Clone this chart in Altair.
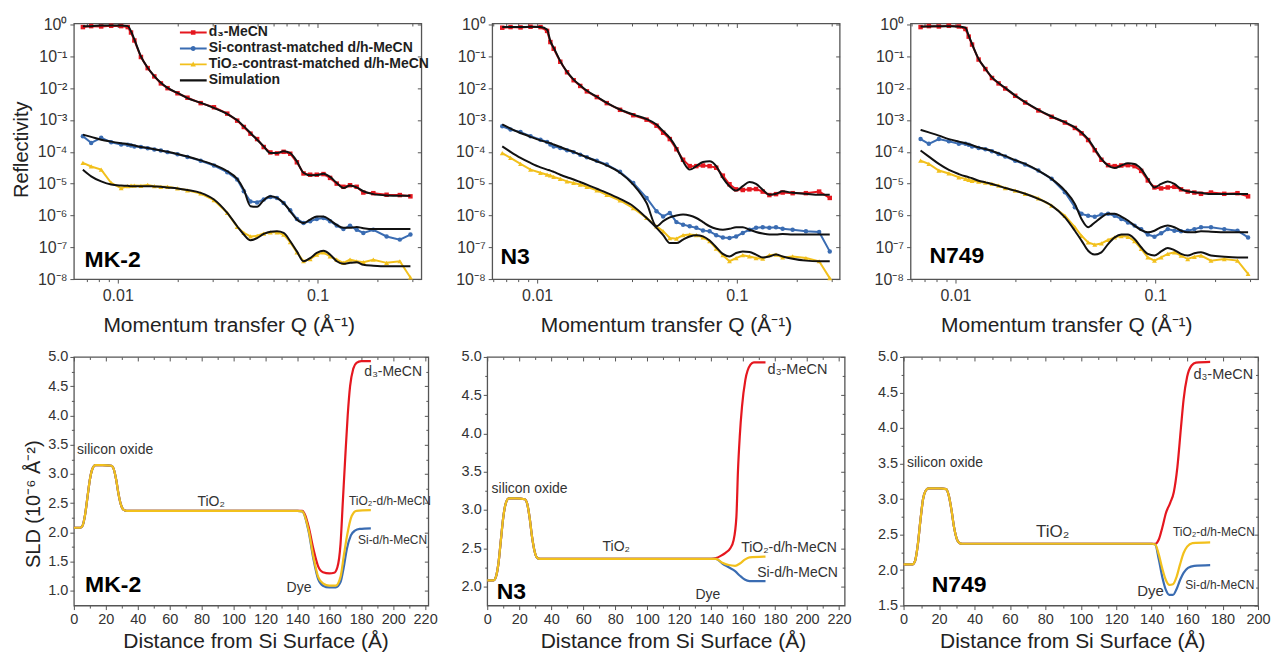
import altair as alt
import pandas as pd

FONT = "Liberation Sans"
RED = "#e5171f"
BLUE = "#3a6cb2"
YEL = "#f2c01c"
BLK = "#111111"
TXT = "#1e1e1e"
ANN = "#333333"

SERIES = ["d₃-MeCN", "Si-contrast-matched d/h-MeCN", "TiO₂-contrast-matched d/h-MeCN"]
SIM_NAME = "Simulation"

# ---------------- Reflectivity panels ----------------
# momentum transfer Q (1/Angstrom) at which values were read
Q = [0.00669, 0.00736, 0.00826, 0.00927, 0.0104, 0.01122, 0.01165, 0.01211, 0.01306, 0.01412,
     0.01524, 0.01644, 0.01775, 0.01991, 0.02233, 0.02601, 0.03031, 0.03533, 0.03962, 0.04277,
     0.04617, 0.04984, 0.0538, 0.05808, 0.06269, 0.06767, 0.07305, 0.07885, 0.08511, 0.09187,
     0.09917, 0.1071, 0.1156, 0.1248, 0.1348, 0.1455, 0.1571, 0.1696, 0.1903, 0.2218,
     0.2583, 0.2919]

# log10(reflectivity)
MK2_D3_SIM = [-0.05, -0.05, -0.03, -0.03, -0.03, -0.05, -0.21, -0.47, -1.00, -1.36, -1.62, -1.83, -1.99, -2.15,
              -2.31, -2.46, -2.62, -2.81, -3.01, -3.20, -3.41, -3.62, -3.83, -4.04, -4.04, -3.98, -4.04, -4.30,
              -4.66, -4.74, -4.73, -4.69, -4.79, -4.98, -5.14, -5.06, -5.12, -5.24, -5.33, -5.37, -5.38, -5.38]
MK2_D3_DAT = [-0.08, -0.05, -0.06, -0.04, -0.05, -0.08, -0.25, -0.50, -1.02, -1.37, -1.63, -1.85, -2.00, -2.16,
              -2.30, -2.47, -2.60, -2.80, -3.02, -3.22, -3.43, -3.60, -3.85, -4.02, -4.05, -4.00, -4.06, -4.33,
              -4.68, -4.72, -4.72, -4.70, -4.82, -5.00, -5.10, -5.05, -5.10, -5.28, -5.30, -5.35, -5.36, -5.40]
MK2_SI_SIM = [-3.46, -3.53, -3.62, -3.68, -3.73, -3.76, -3.78, -3.80, -3.85, -3.88, -3.92, -3.96, -4.00, -4.07,
              -4.15, -4.27, -4.41, -4.61, -4.85, -5.19, -5.71, -5.73, -5.52, -5.40, -5.45, -5.61, -5.87, -6.13,
              -6.24, -6.13, -6.03, -6.03, -6.15, -6.30, -6.39, -6.39, -6.36, -6.40, -6.43, -6.43, -6.43, -6.43]
MK2_SI_DAT = [-3.51, -3.72, -3.56, -3.70, -3.77, -3.78, -3.80, -3.83, -3.85, -3.89, -3.93, -3.96, -4.01, -4.08,
              -4.16, -4.28, -4.43, -4.64, -4.87, -5.24, -5.56, -5.59, -5.50, -5.42, -5.45, -5.61, -5.84, -6.11,
              -6.24, -6.18, -6.11, -6.08, -6.18, -6.32, -6.43, -6.32, -6.45, -6.55, -6.45, -6.66, -6.76, -6.60]
MK2_TI_SIM = [-4.56, -4.77, -4.93, -5.03, -5.06, -5.07, -5.08, -5.08, -5.08, -5.08, -5.09, -5.10, -5.12, -5.15,
              -5.20, -5.29, -5.50, -5.92, -6.34, -6.60, -6.78, -6.71, -6.58, -6.51, -6.50, -6.55, -6.81, -7.13,
              -7.44, -7.34, -7.18, -7.11, -7.23, -7.44, -7.52, -7.49, -7.47, -7.55, -7.58, -7.60, -7.60, -7.60]
MK2_TI_DAT = [-4.35, -4.46, -4.56, -4.98, -5.14, -5.08, -5.06, -5.06, -5.07, -5.04, -5.08, -5.10, -5.10, -5.15,
              -5.21, -5.31, -5.52, -5.92, -6.36, -6.55, -6.66, -6.64, -6.57, -6.53, -6.53, -6.60, -6.84, -7.16,
              -7.44, -7.37, -7.23, -7.16, -7.29, -7.39, -7.49, -7.39, -7.44, -7.47, -7.39, -7.49, -7.44, -7.95]

N3_D3_SIM = [-0.08, -0.08, -0.08, -0.07, -0.08, -0.16, -0.52, -0.73, -1.15, -1.49, -1.73, -1.91, -2.08, -2.27,
             -2.46, -2.67, -2.83, -2.97, -3.14, -3.35, -3.56, -3.88, -4.30, -4.56, -4.45, -4.32, -4.30, -4.45,
             -4.82, -5.08, -5.22, -5.08, -4.95, -5.01, -5.19, -5.35, -5.32, -5.24, -5.29, -5.32, -5.35, -5.35]
N3_D3_DAT = [-0.10, -0.08, -0.09, -0.07, -0.08, -0.20, -0.55, -0.76, -1.17, -1.50, -1.75, -1.93, -2.10, -2.28,
             -2.47, -2.68, -2.85, -2.99, -3.18, -3.40, -3.60, -3.92, -4.25, -4.45, -4.45, -4.43, -4.45, -4.50,
             -4.75, -5.02, -5.18, -5.20, -5.18, -5.17, -5.25, -5.36, -5.33, -5.28, -5.30, -5.30, -5.25, -5.45]
N3_SI_SIM = [-3.14, -3.27, -3.41, -3.53, -3.64, -3.70, -3.73, -3.77, -3.85, -3.93, -4.00, -4.09, -4.17, -4.30,
             -4.43, -4.66, -5.03, -5.61, -6.34, -6.18, -6.06, -6.00, -5.97, -6.00, -6.08, -6.21, -6.34, -6.42,
             -6.45, -6.42, -6.37, -6.37, -6.45, -6.52, -6.57, -6.60, -6.60, -6.58, -6.60, -6.60, -6.60, -6.60]
N3_SI_DAT = [-3.20, -3.30, -3.38, -3.51, -3.62, -3.69, -3.77, -3.83, -3.88, -3.95, -4.01, -4.09, -4.17, -4.28,
             -4.40, -4.63, -4.98, -5.45, -5.87, -6.03, -5.92, -6.21, -6.29, -6.34, -6.39, -6.47, -6.50, -6.62,
             -6.69, -6.71, -6.66, -6.55, -6.45, -6.39, -6.37, -6.39, -6.37, -6.42, -6.45, -6.50, -6.52, -7.13]
N3_TI_SIM = [-3.83, -4.00, -4.19, -4.35, -4.49, -4.56, -4.59, -4.63, -4.72, -4.80, -4.87, -4.95, -5.03, -5.16,
             -5.29, -5.48, -5.71, -6.08, -6.39, -6.62, -6.87, -6.87, -6.76, -6.66, -6.62, -6.66, -6.79, -7.00,
             -7.21, -7.29, -7.18, -7.13, -7.15, -7.23, -7.32, -7.29, -7.23, -7.29, -7.36, -7.42, -7.44, -7.44]
N3_TI_DAT = [-4.04, -4.19, -4.38, -4.56, -4.66, -4.72, -4.74, -4.79, -4.85, -4.93, -4.98, -5.03, -5.10, -5.21,
             -5.35, -5.53, -5.77, -6.08, -6.34, -6.50, -6.71, -6.73, -6.62, -6.60, -6.62, -6.69, -6.81, -7.04,
             -7.25, -7.44, -7.34, -7.25, -7.29, -7.34, -7.36, -7.25, -7.23, -7.32, -7.29, -7.34, -7.44, -7.97]

N749_D3_SIM = [-0.06, -0.06, -0.05, -0.05, -0.06, -0.10, -0.35, -0.61, -1.08, -1.39, -1.66, -1.84, -1.99, -2.23,
               -2.44, -2.68, -2.89, -3.07, -3.23, -3.39, -3.60, -3.91, -4.22, -4.43, -4.51, -4.43, -4.36, -4.38,
               -4.54, -4.85, -5.12, -5.01, -4.93, -5.01, -5.17, -5.24, -5.27, -5.29, -5.33, -5.33, -5.33, -5.33]
N749_D3_DAT = [-0.08, -0.05, -0.06, -0.04, -0.06, -0.14, -0.38, -0.63, -1.10, -1.40, -1.68, -1.85, -2.01, -2.24,
               -2.45, -2.70, -2.90, -3.08, -3.25, -3.42, -3.63, -3.95, -4.25, -4.42, -4.45, -4.43, -4.42, -4.45,
               -4.60, -4.90, -5.12, -5.15, -5.12, -5.10, -5.18, -5.25, -5.28, -5.32, -5.28, -5.32, -5.30, -5.40]
N749_SI_SIM = [-3.31, -3.39, -3.49, -3.60, -3.68, -3.73, -3.76, -3.79, -3.86, -3.91, -3.97, -4.05, -4.13, -4.26,
               -4.38, -4.59, -4.85, -5.22, -5.64, -6.11, -6.37, -6.22, -6.06, -5.95, -5.95, -6.04, -6.16, -6.32,
               -6.46, -6.53, -6.48, -6.37, -6.32, -6.37, -6.48, -6.53, -6.53, -6.50, -6.51, -6.53, -6.53, -6.53]
N749_SI_DAT = [-3.60, -3.75, -3.60, -3.67, -3.75, -3.75, -3.78, -3.83, -3.88, -3.92, -3.98, -4.07, -4.15, -4.28,
               -4.40, -4.59, -4.85, -5.27, -5.74, -5.95, -6.01, -6.04, -5.97, -5.95, -6.01, -6.11, -6.22, -6.32,
               -6.43, -6.60, -6.67, -6.56, -6.43, -6.48, -6.50, -6.48, -6.43, -6.37, -6.37, -6.43, -6.48, -6.69]
N749_TI_SIM = [-3.96, -4.15, -4.38, -4.57, -4.70, -4.77, -4.80, -4.83, -4.91, -4.96, -5.01, -5.07, -5.14, -5.22,
               -5.32, -5.48, -5.69, -6.06, -6.48, -6.79, -7.11, -7.23, -7.16, -6.90, -6.69, -6.60, -6.60, -6.74,
               -7.00, -7.21, -7.26, -7.13, -7.02, -7.09, -7.21, -7.26, -7.19, -7.16, -7.26, -7.30, -7.32, -7.32]
N749_TI_DAT = [-4.28, -4.38, -4.59, -4.68, -4.80, -4.85, -4.88, -4.91, -4.94, -4.97, -5.01, -5.06, -5.14, -5.22,
               -5.32, -5.46, -5.69, -6.01, -6.37, -6.64, -6.85, -6.92, -6.88, -6.77, -6.69, -6.65, -6.67, -6.81,
               -7.05, -7.32, -7.42, -7.32, -7.21, -7.16, -7.26, -7.37, -7.30, -7.26, -7.42, -7.37, -7.42, -7.84]

REFL_YTICKS = [1, 1e-1, 1e-2, 1e-3, 1e-4, 1e-5, 1e-6, 1e-7, 1e-8]
REFL_XTICKS = [0.01, 0.1]
REFL_XMINOR = [0.006, 0.007, 0.008, 0.009, 0.02, 0.03, 0.04, 0.05, 0.06, 0.07, 0.08, 0.09, 0.2, 0.3]

# ---------------- SLD panels ----------------
MK2_X_SHARED = [0, 4, 5.5, 7, 8.5, 10, 11.5, 13.5, 18, 23.5, 25, 26.5, 28, 29.5, 31, 33, 60, 100, 140]
MK2_Y_SHARED = [2.08, 2.08, 2.12, 2.3, 2.6, 2.9, 3.08, 3.15, 3.15, 3.14, 3.08, 2.9, 2.65, 2.47, 2.39, 2.37, 2.37, 2.37, 2.37]
MK2_D3_X = [143, 147, 150, 153, 156, 160, 163, 165, 167, 168.5, 170, 171.5, 173, 175, 177, 180, 186]
MK2_D3_Y = [2.37, 2.1, 1.72, 1.42, 1.32, 1.30, 1.31, 1.4, 1.8, 2.55, 3.3, 4.0, 4.5, 4.8, 4.9, 4.93, 4.93]
MK2_SI_X = [143, 147, 150, 153, 156, 160, 164, 167, 169, 171, 173.5, 176, 179, 186]
MK2_SI_Y = [2.36, 2.02, 1.55, 1.2, 1.09, 1.06, 1.06, 1.15, 1.4, 1.72, 1.95, 2.03, 2.06, 2.07]
MK2_TI_X = [143, 147, 150, 153, 156, 160, 164, 167, 169, 171, 174, 177, 186]
MK2_TI_Y = [2.36, 2.04, 1.59, 1.24, 1.13, 1.09, 1.09, 1.24, 1.59, 1.93, 2.28, 2.37, 2.38]

N3_X_SHARED = [0, 4, 5.5, 7, 8.5, 10, 11.5, 13.5, 18, 23.5, 25, 26.5, 28, 29.5, 31, 33, 60, 100, 140]
N3_Y_SHARED = [2.08, 2.08, 2.13, 2.3, 2.6, 2.9, 3.08, 3.15, 3.15, 3.14, 3.08, 2.9, 2.65, 2.47, 2.38, 2.36, 2.36, 2.36, 2.36]
N3_D3_X = [143, 146, 149, 152, 154, 155.8, 156.8, 157.9, 159.3, 161.4, 164.6, 166.7, 174]
N3_D3_Y = [2.37, 2.4, 2.44, 2.5, 2.6, 2.91, 3.52, 3.96, 4.35, 4.7, 4.9, 4.93, 4.93]
N3_SI_X = [143, 147, 151, 155, 158, 161, 164, 174]
N3_SI_Y = [2.36, 2.3, 2.25, 2.2, 2.14, 2.09, 2.07, 2.07]
N3_TI_X = [143, 147, 151, 155, 158, 161, 164, 174]
N3_TI_Y = [2.36, 2.31, 2.28, 2.27, 2.3, 2.35, 2.38, 2.39]

N749_X_SHARED = [0, 5, 6.5, 8, 9.5, 11, 12.5, 14, 20, 24, 25.5, 27, 28.5, 30, 31.5, 33, 60, 100, 140]
N749_Y_SHARED = [2.08, 2.08, 2.13, 2.35, 2.7, 3.0, 3.12, 3.15, 3.15, 3.14, 3.05, 2.85, 2.6, 2.44, 2.38, 2.37, 2.37, 2.37, 2.37]
N749_D3_X = [142, 144, 146, 148, 150.5, 152.5, 154.5, 156.5, 158, 160, 162.5, 165, 173]
N749_D3_Y = [2.37, 2.43, 2.6, 2.8, 2.95, 3.1, 3.45, 4.0, 4.4, 4.72, 4.88, 4.92, 4.93]
N749_SI_X = [142, 144, 146, 148, 150, 152, 154, 156, 158, 160.5, 164, 173]
N749_SI_Y = [2.36, 2.15, 1.9, 1.72, 1.65, 1.65, 1.73, 1.86, 1.96, 2.03, 2.06, 2.07]
N749_TI_X = [142, 144, 146, 148, 150, 152, 154, 156, 158, 160, 163, 173]
N749_TI_Y = [2.36, 2.22, 2.02, 1.86, 1.79, 1.8, 1.9, 2.08, 2.24, 2.33, 2.38, 2.39]

# legend glyphs: a line with the marker in the middle
P_LINE = "M-1,-0.07H1V0.07H-1Z"
P_SQ = P_LINE + "M-0.17,-0.17H0.17V0.17H-0.17Z"
P_CI = P_LINE + "M-0.19,0A0.19,0.19,0,1,1,0.19,0A0.19,0.19,0,1,1,-0.19,0Z"
P_TR = P_LINE + "M0,-0.21L0.2,0.15L-0.2,0.15Z"
P_SIM = "M-1,-0.085H1V0.085H-1Z"
SYMBOL_EXPR = (f"datum.value === '{SIM_NAME}' ? '{P_SIM}' : datum.value === '{SERIES[0]}' ? '{P_SQ}' : "
               f"datum.value === '{SERIES[1]}' ? '{P_CI}' : '{P_TR}'")

TOP_W, TOP_H = 348, 256
BOT_H = 249


def empty():
    return alt.Data(values=[])


def axis_layers(xs, ys, W, H, xmaj, xmin, ymaj, ymin, xkw, ykw):
    def lay(xax, yax):
        return alt.Chart(empty()).mark_point(opacity=0).encode(
            x=alt.X("ax:Q", scale=xs, axis=xax),
            y=alt.Y("ay:Q", scale=ys, axis=yax),
        )
    main = lay(alt.Axis(orient="bottom", values=xmaj, tickSize=4, **xkw),
               alt.Axis(orient="left", values=ymaj, tickSize=4, **ykw))
    minor = lay(alt.Axis(orient="bottom", values=xmin, labels=False, tickSize=2.5, title=None),
                alt.Axis(orient="left", values=ymin, labels=False, tickSize=2.5, title=None))
    mirror = lay(alt.Axis(orient="bottom", offset=-H, values=xmaj, labels=False, tickSize=4, title=None),
                 alt.Axis(orient="left", offset=-W, values=ymaj, labels=False, tickSize=4, title=None))
    mirror_minor = lay(alt.Axis(orient="bottom", offset=-H, values=xmin, labels=False, tickSize=2.5, title=None),
                       alt.Axis(orient="left", offset=-W, values=ymin, labels=False, tickSize=2.5, title=None))
    return [main, minor, mirror, mirror_minor]


def text_layer(xs, ys, x, y, text, size, align="center", weight="normal", color=ANN):
    df = pd.DataFrame({"x": [x], "y": [y], "t": [text]})
    return alt.Chart(df).mark_text(font=FONT, fontSize=size, fontWeight=weight, align=align,
                                   baseline="middle", color=color).encode(
        x=alt.X("x:Q", scale=xs, axis=None), y=alt.Y("y:Q", scale=ys, axis=None), text="t:N")


def refl_panel(qdom, series, label, label_q, label_r, leg_x, leg_y, row_h, title_x, ytitle):
    xs = alt.Scale(type="log", domain=qdom, nice=False)
    ys = alt.Scale(type="log", domain=[1e-8, 1.08], nice=False)
    layers = []
    styles = [(RED, "square", 20), (BLUE, "circle", 20), (YEL, "triangle-up", 24)]
    for (dat, sim), (col, shp, sz) in zip(series, styles):
        df = pd.DataFrame({"q": Q, "r": [10 ** v for v in dat]})
        enc = dict(x=alt.X("q:Q", scale=xs, axis=None), y=alt.Y("r:Q", scale=ys, axis=None))
        layers.append(alt.Chart(df).mark_line(color=col, strokeWidth=2.0).encode(**enc))
        layers.append(alt.Chart(df).mark_point(shape=shp, filled=True, color=col, size=sz,
                                               opacity=1).encode(**enc))
    for dat, sim in series:
        df = pd.DataFrame({"q": Q, "r": [10 ** v for v in sim]})
        layers.append(alt.Chart(df).mark_line(color=BLK, strokeWidth=2, interpolate="monotone").encode(
            x=alt.X("q:Q", scale=xs, axis=None), y=alt.Y("r:Q", scale=ys, axis=None)))
    dom = SERIES + [SIM_NAME]
    layers.append(alt.Chart(empty()).mark_point(filled=True, opacity=1).encode(
        color=alt.Color("s:N", scale=alt.Scale(domain=dom, range=[RED, BLUE, YEL, BLK]),
                        legend=alt.Legend(title=None, orient="none", legendX=leg_x, legendY=leg_y,
                                          padding=0, rowPadding=0, clipHeight=row_h,
                                          symbolType=alt.ExprRef(SYMBOL_EXPR),
                                          symbolSize=729, symbolStrokeWidth=0, symbolOpacity=1,
                                          labelFont=FONT, labelFontSize=14, labelFontWeight="bold",
                                          labelColor=TXT, labelOffset=2, labelLimit=400)),
    ))
    layers.append(text_layer(xs, ys, label_q, label_r, label, 23, align="left", weight="bold", color="#000000"))
    xminor = [v for v in REFL_XMINOR if qdom[0] <= v <= qdom[1]]
    xkw = dict(format="~g", labelFontSize=16, labelPadding=4,
               title="Momentum transfer Q (Å⁻¹)", titleFontSize=21, titleX=title_x, titleY=53,
               titleBaseline="alphabetic", titleAlign="center")
    ykw = dict(labelExpr="['10⁰','10⁻¹','10⁻²','10⁻³','10⁻⁴','10⁻⁵','10⁻⁶','10⁻⁷','10⁻⁸'][round(-log(datum.value)/LN10)]",
               labelFontSize=16, labelPadding=3)
    if ytitle:
        ykw.update(title="Reflectivity", titleFontSize=20, titleX=-52, titleY=126, titleAngle=270,
                   titleBaseline="middle", titleAlign="center")
    else:
        ykw.update(title=None)
    layers += axis_layers(xs, ys, TOP_W, TOP_H, REFL_XTICKS, xminor, REFL_YTICKS, [], xkw, ykw)
    return alt.layer(*layers).resolve_axis(x="independent", y="independent").properties(
        width=TOP_W, height=TOP_H)


def sld_panel(W, xdom, ydom, xticks, yticks, shared, tails, legend_xy, annotations, title_x, ytitle, spacer=False):
    xs = alt.Scale(domain=xdom, nice=False, zero=False)
    ys = alt.Scale(domain=ydom, nice=False, zero=False)
    layers = []
    for (tx, ty), col in zip(tails, [RED, BLUE, YEL]):
        df = pd.DataFrame({"x": shared[0] + tx, "y": shared[1] + ty})
        layers.append(alt.Chart(df).mark_line(color=col, strokeWidth=2.2, interpolate="monotone").encode(
            x=alt.X("x:Q", scale=xs, axis=None), y=alt.Y("y:Q", scale=ys, axis=None)))
    layers.append(alt.Chart(empty()).mark_line().encode(
        color=alt.Color("s:N", scale=alt.Scale(domain=SERIES, range=[RED, BLUE, YEL]),
                        legend=alt.Legend(title=None, orient="none", legendX=legend_xy[0], legendY=legend_xy[1],
                                          padding=0, rowPadding=0, clipHeight=16.5, symbolType="stroke",
                                          symbolStrokeWidth=2.2, symbolSize=784, symbolOpacity=1,
                                          labelFont=FONT, labelFontSize=legend_xy[2], labelFontWeight="bold",
                                          labelColor=TXT, labelOffset=2, labelLimit=400))))
    for a in annotations:
        layers.append(text_layer(xs, ys, *a))
    if spacer:
        layers.append(alt.Chart(alt.Data(values=[{"t": " "}])).mark_text(
            fontSize=10, align="left", opacity=0).encode(x=alt.value(-62), y=alt.value(120), text="t:N"))
    step = xticks[1] - xticks[0]
    xminor = [v + step / 2 for v in xticks if v + step / 2 <= xdom[1]]
    ystep = yticks[1] - yticks[0]
    yminor = [round(v + ystep / 2, 3) for v in yticks[:-1]]
    xkw = dict(format="d", labelFontSize=14.5, labelPadding=3,
               title="Distance from Si Surface (Å)", titleFontSize=21, titleX=title_x, titleY=42,
               titleBaseline="alphabetic", titleAlign="center")
    ykw = dict(format=".1f", labelFontSize=14.5, labelPadding=2)
    if ytitle:
        ykw.update(title="SLD (10⁻⁶ Å⁻²)", titleFontSize=20, titleX=-40, titleY=147, titleAngle=270,
                   titleBaseline="middle", titleAlign="center")
    else:
        ykw.update(title=None)
    layers += axis_layers(xs, ys, W, BOT_H, xticks, xminor, yticks, yminor, xkw, ykw)
    return alt.layer(*layers).resolve_axis(x="independent", y="independent").properties(
        width=W, height=BOT_H)


p1 = refl_panel([0.00603, 0.331],
                [(MK2_D3_DAT, MK2_D3_SIM), (MK2_SI_DAT, MK2_SI_SIM), (MK2_TI_DAT, MK2_TI_SIM)],
                "MK-2", 0.00682, 4.1e-8, 106, 1, 16, 155, True)
p2 = refl_panel([0.00596, 0.3273],
                [(N3_D3_DAT, N3_D3_SIM), (N3_SI_DAT, N3_SI_SIM), (N3_TI_DAT, N3_TI_SIM)],
                "N3", 0.00656, 5.1e-8, 112, 3, 17.5, 174, False)
p3 = refl_panel([0.00596, 0.3273],
                [(N749_D3_DAT, N749_D3_SIM), (N749_SI_DAT, N749_SI_SIM), (N749_TI_DAT, N749_TI_SIM)],
                "N749", 0.00741, 5.5e-8, 100, 4, 16, 156, False)

X220 = list(range(0, 221, 20))
X200 = list(range(0, 201, 20))

b1 = sld_panel(355, [0, 222], [0.75, 5.0], X220, [1.0, 1.5, 2.0, 2.5, 3.0, 3.5, 4.0, 4.5, 5.0],
               (MK2_X_SHARED, MK2_Y_SHARED),
               [(MK2_D3_X, MK2_D3_Y), (MK2_SI_X, MK2_SI_Y), (MK2_TI_X, MK2_TI_Y)],
               (6, 4.75, 15.5),
               [(2, 3.41, "silicon oxide", 14, "left"), (86, 2.52, "TiO₂", 14), (141, 1.05, "Dye", 14),
                (200, 4.74, "d₃-MeCN", 14), (198, 2.54, "TiO₂-d/h-MeCN", 12), (199.6, 1.87, "Si-d/h-MeCN", 12),
                (7, 1.10, "MK-2", 23, "left", "bold", "#000000")],
               182, True, spacer=True)
b2 = sld_panel(358, [0, 223.5], [1.75, 5.0], X220, [2.0, 2.5, 3.0, 3.5, 4.0, 4.5, 5.0],
               (N3_X_SHARED, N3_Y_SHARED),
               [(N3_D3_X, N3_D3_Y), (N3_SI_X, N3_SI_Y), (N3_TI_X, N3_TI_Y)],
               (10, 3.75, 14.8),
               [(2.7, 3.28, "silicon oxide", 14, "left"), (80.7, 2.52, "TiO₂", 14), (138, 1.89, "Dye", 14),
                (194, 4.83, "d₃-MeCN", 14.5), (188.7, 2.5, "TiO₂-d/h-MeCN", 14), (194, 2.17, "Si-d/h-MeCN", 14),
                (5.9, 1.93, "N3", 23, "left", "bold", "#000000")],
               186, False)
b3 = sld_panel(355, [0, 200], [1.5, 5.0], X200, [1.5, 2.0, 2.5, 3.0, 3.5, 4.0, 4.5, 5.0],
               (N749_X_SHARED, N749_Y_SHARED),
               [(N749_D3_X, N749_D3_Y), (N749_SI_X, N749_SI_Y), (N749_TI_X, N749_TI_Y)],
               (3, 2.75, 15.5),
               [(1.9, 3.50, "silicon oxide", 14, "left"), (84.1, 2.54, "TiO₂", 17), (139.3, 1.70, "Dye", 15),
                (180.4, 4.74, "d₃-MeCN", 14.5), (175.1, 2.53, "TiO₂-d/h-MeCN", 12), (178.5, 1.79, "Si-d/h-MeCN", 12),
                (15.9, 1.79, "N749", 23, "left", "bold", "#000000")],
               169, False)

top = alt.hconcat(p1, p2, p3, spacing=71, bounds="flush")
bot = alt.hconcat(b1, b2, b3, spacing=59, bounds="flush")

chart = alt.vconcat(top, bot, spacing=11).properties(
    padding={"left": 11, "top": 15, "right": 0, "bottom": 0}
).configure(font=FONT).configure_view(
    stroke="#555555", strokeWidth=1.3
).configure_axis(
    labelFont=FONT, titleFont=FONT, labelColor="#333333", titleColor="#222222",
    tickColor="#555555", tickWidth=1, domain=False, grid=False, labelFlush=False,
    titleFontWeight="normal", labelOverlap=False
)

chart.save("out.html", embed_options={"renderer": "svg", "actions": False})
